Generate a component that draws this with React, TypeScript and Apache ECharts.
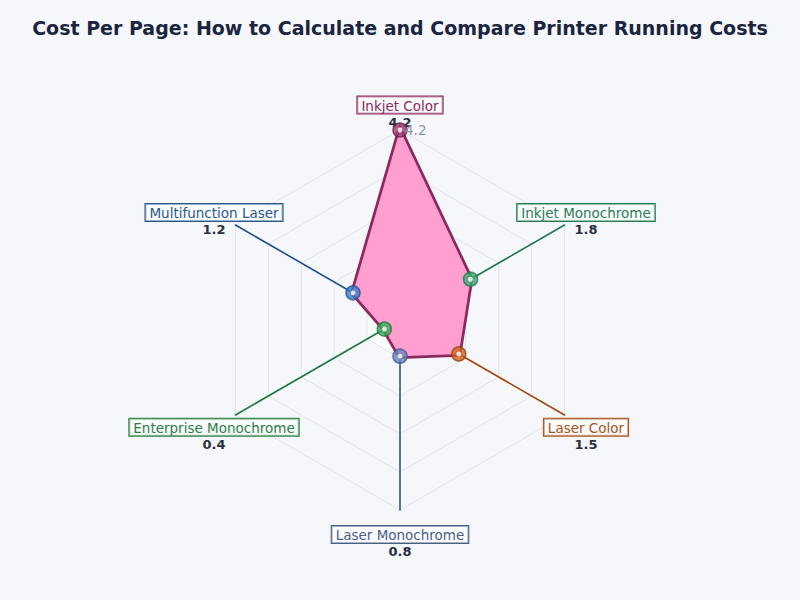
import { useEffect, useRef } from 'react';
import * as echarts from 'echarts';

// clockwise from the top
const categories = [
  'Inkjet Color',
  'Inkjet Monochrome',
  'Laser Color',
  'Laser Monochrome',
  'Enterprise Monochrome',
  'Multifunction Laser',
];
const costs = [4.2, 1.8, 1.5, 0.8, 0.4, 1.2];
const maxCost = 4.2;

const labelColors = ['#8b2a5e', '#2a7d55', '#a9531a', '#4a5f85', '#2a8043', '#2b5a8f'];
const lineColors = ['#8b2a5e', '#1f7a4c', '#a4470f', '#34557f', '#1b7a3c', '#1f4f8a'];
const markerColors = ['#9a3a6e', '#3aa872', '#d0641f', '#6a84bb', '#3aaa5a', '#3a7cc4'];
const markerEdges = ['#6e1f4a', '#1f7a4c', '#9a4410', '#3e5a90', '#1f7a3c', '#1f508f'];

// radar lays indicators out counter-clockwise
const radarOrder = categories.map((_, k) => (categories.length - k) % categories.length);

const FONT = 'DejaVu Sans';

export default function App() {
  const chartRef = useRef<HTMLDivElement>(null);

  useEffect(() => {
    if (!chartRef.current) return;
    const chart = echarts.init(chartRef.current, undefined, { renderer: 'svg' });

    const rich: Record<string, any> = {
      v: { fontFamily: FONT, fontSize: 13, fontWeight: 'bold', color: '#2a3142', lineHeight: 20, align: 'center' },
    };
    categories.forEach((_, i) => {
      rich['b' + i] = {
        fontFamily: FONT,
        fontSize: 13.5,
        color: labelColors[i],
        borderColor: labelColors[i],
        borderWidth: 1,
        backgroundColor: 'rgba(255,255,255,0.5)',
        padding: [2, 4, 1, 4],
        lineHeight: 14,
        align: 'center',
      };
    });

    const spokes = categories.map((name, i) => ({
      type: 'radar',
      name,
      symbol: 'none',
      silent: true,
      lineStyle: { color: lineColors[i], width: 1.6 },
      data: [{ value: radarOrder.map((j) => (j === i ? maxCost : 0)) }],
    }));

    // the area is painted over the inner half of the outline
    const mainLine = { color: '#8b2a5e', width: 5.5 };
    const mainArea = { color: '#ff9fd0', opacity: 1 };

    chart.setOption({
      animation: false,
      backgroundColor: '#f5f7fb',
      title: {
        text: 'Cost Per Page: How to Calculate and Compare Printer Running Costs',
        left: 'center',
        top: 13,
        textStyle: { fontFamily: FONT, fontSize: 19, fontWeight: 'bold', color: '#1b2540' },
      },
      radar: {
        center: [400, 320],
        radius: 190,
        startAngle: 90,
        shape: 'polygon',
        splitNumber: 5,
        axisNameGap: 24.75,
        indicator: radarOrder.map((j) => ({ name: categories[j], min: 0, max: maxCost })),
        axisName: {
          align: 'center',
          verticalAlign: 'middle',
          padding: [19.5, 0, 0, 0],
          formatter: (name: string) => {
            const i = categories.indexOf(name);
            return `{b${i}|${name}}\n{v|${costs[i].toFixed(1)}}`;
          },
          rich,
        },
        axisLine: { lineStyle: { color: '#e1e5ec' } },
        splitLine: { lineStyle: { color: '#e1e5ec', width: 1 } },
        splitArea: {
          areaStyle: {
            color: ['rgba(255,255,255,0.8)', 'rgba(0,0,0,0)', 'rgba(0,0,0,0)', 'rgba(0,0,0,0)', 'rgba(0,0,0,0)'],
          },
        },
      },
      polar: { center: [400, 320], radius: 190 },
      angleAxis: {
        type: 'category',
        data: categories,
        startAngle: 90,
        boundaryGap: false,
        axisLine: { show: false },
        axisTick: { show: false },
        axisLabel: { show: false },
        splitLine: { show: false },
      },
      radiusAxis: {
        type: 'value',
        min: 0,
        max: maxCost,
        interval: maxCost,
        axisLine: { show: false },
        axisTick: { show: false },
        splitLine: { show: false },
        axisLabel: {
          align: 'left',
          margin: -5,
          formatter: (v: number) => (v > 0 ? v.toFixed(1) : ''),
          color: '#8c95a8',
          fontFamily: FONT,
          fontSize: 13.5,
        },
        z: 20,
      },
      series: [
        ...spokes,
        {
          type: 'radar',
          name: 'Cost per page',
          symbol: 'none',
          lineStyle: mainLine,
          areaStyle: mainArea,
          data: [{ value: radarOrder.map((j) => costs[j]), lineStyle: mainLine, areaStyle: mainArea }],
          z: 3,
        },
        {
          type: 'scatter',
          coordinateSystem: 'polar',
          symbolSize: 14,
          z: 4,
          data: costs.map((c, i) => ({
            value: [c, categories[i]],
            itemStyle: { color: markerColors[i], borderColor: markerEdges[i], borderWidth: 1.5 },
          })),
        },
        {
          type: 'scatter',
          coordinateSystem: 'polar',
          symbolSize: 5,
          z: 5,
          itemStyle: { color: '#ffffff' },
          data: costs.map((c, i) => [c, categories[i]]),
        },
      ],
    });

    return () => {
      chart.dispose();
    };
  }, []);

  return <div ref={chartRef} style={{ position: 'fixed', left: 0, top: 0, width: 800, height: 600 }} />;
}
